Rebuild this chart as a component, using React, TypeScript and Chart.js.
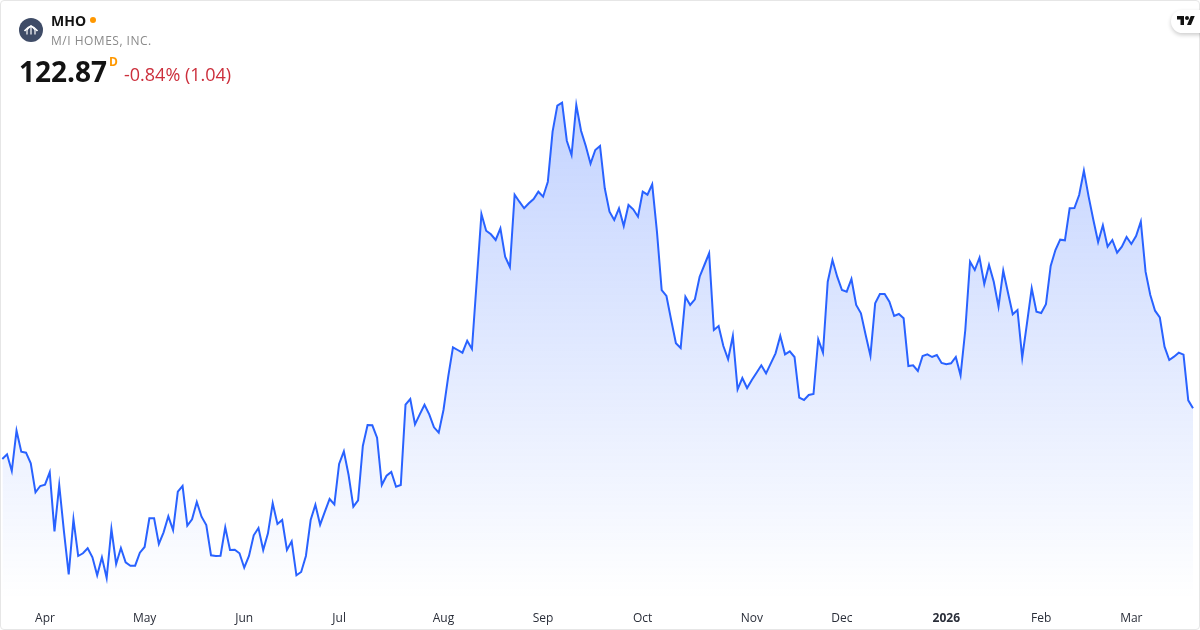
import React, { useEffect, useRef } from "react";
import { Chart, registerables } from "chart.js";

Chart.register(...registerables);

const prices: number[] = [
  116.28, 116.89, 114.72, 119.96, 117.23, 117.10, 115.72, 111.95, 112.77, 112.94,
  114.55, 106.88, 112.90, 106.83, 101.29, 108.44, 103.67, 104.02, 104.67, 103.50,
  101.16, 103.50, 100.81, 107.18, 102.63, 104.71, 102.85, 102.41, 102.41, 104.10,
  104.84, 108.57, 108.57, 105.23, 106.75, 108.83, 107.05, 112.03, 112.77, 107.61,
  108.44, 110.69, 108.78, 107.70, 103.76, 103.67, 103.71, 107.40, 104.45, 104.49,
  104.02, 102.15, 103.67, 106.36, 107.31, 104.45, 106.62, 110.52, 107.83, 108.35,
  104.45, 105.58, 101.16, 101.59, 103.67, 108.35, 110.34, 107.74, 109.43, 111.08,
  110.39, 115.63, 117.28, 114.20, 110.08, 110.91, 117.97, 120.70, 120.66, 119.05,
  112.90, 114.11, 114.59, 112.68, 112.90, 123.34, 124.08, 120.79, 122.09, 123.34,
  122.09, 120.40, 119.70, 122.65, 126.98, 130.80, 130.45, 130.10, 131.66, 130.58,
  139.33, 148.13, 145.96, 145.49, 144.75, 146.27, 142.58, 141.24, 150.64, 149.73,
  148.87, 149.52, 150.08, 151.03, 150.38, 152.33, 158.83, 162.21, 162.60, 157.66,
  155.80, 162.30, 158.96, 156.97, 154.67, 156.45, 156.97, 151.47, 148.43, 147.35,
  148.87, 146.57, 149.30, 148.74, 147.78, 151.03, 150.64, 151.99, 145.83, 138.25,
  137.47, 134.35, 131.32, 130.71, 137.38, 136.30, 137.04, 139.98, 141.50, 143.02,
  133.05, 133.57, 130.97, 129.24, 132.27, 125.34, 126.81, 125.51, 126.55, 127.50,
  128.46, 127.42, 128.72, 130.02, 132.27, 129.89, 130.28, 129.54, 124.25, 123.95,
  124.60, 124.73, 131.84, 130.10, 139.33, 142.15, 139.98, 138.25, 138.03, 139.68,
  136.30, 135.22, 132.40, 129.71, 136.52, 137.73, 137.73, 136.73, 134.87, 135.13,
  134.57, 128.37, 128.46, 127.72, 129.67, 129.89, 129.54, 129.80, 128.76, 128.59,
  128.72, 129.54, 127.16, 133.05, 141.93, 140.85, 142.45, 139.03, 141.50, 139.33,
  136.08, 140.76, 137.90, 135.09, 135.65, 129.45, 133.92, 138.47, 135.43, 135.26,
  136.39, 141.37, 143.45, 144.79, 144.71, 148.87, 148.91, 150.60, 153.76, 150.38,
  147.35, 144.49, 146.66, 143.88, 144.75, 143.10, 143.88, 145.14, 144.23, 145.27,
  147.13, 140.63, 137.60, 135.56, 134.70, 130.88, 129.15, 129.58, 130.10, 129.84,
  123.91, 122.87,
];

const monthLabels = ["Apr", "May", "Jun", "Jul", "Aug", "Sep", "Oct", "Nov", "Dec", "2026", "Feb", "Mar"];
const monthStartIndex = [9, 30, 51, 71, 93, 114, 135, 158, 177, 199, 219, 238];

const axisMin = 97.95;
const axisMax = 175.95;

const FONT = '"Open Sans", "Noto Sans", sans-serif';

export default function App() {
  const ref = useRef<HTMLCanvasElement>(null);

  useEffect(() => {
    document.body.style.margin = "0";
    document.body.style.background = "#fff";
    const canvas = ref.current!;
    const labels = prices.map((_, i) => {
      const k = monthStartIndex.indexOf(i);
      return k >= 0 ? monthLabels[k] : "";
    });
    const chart = new Chart(canvas, {
      type: "line",
      data: {
        labels,
        datasets: [
          {
            data: prices,
            borderColor: "#2962ff",
            borderWidth: 2,
            pointRadius: 0,
            tension: 0,
            fill: "start",
            backgroundColor: (ctx: any) => {
              const { chart } = ctx;
              const area = chart.chartArea;
              if (!area) return "rgba(41,98,255,0.1)";
              const top = chart.scales.y.getPixelForValue(Math.max(...prices));
              const g = chart.ctx.createLinearGradient(0, top, 0, area.bottom);
              g.addColorStop(0, "rgba(41,98,255,0.28)");
              g.addColorStop(1, "rgba(41,98,255,0)");
              return g;
            },
          },
        ],
      },
      options: {
        animation: false,
        responsive: false,
        maintainAspectRatio: false,
        layout: { padding: { left: 2.3, right: 7, top: 0, bottom: 0 } },
        plugins: { legend: { display: false }, tooltip: { enabled: false } },
        scales: {
          y: { display: false, min: axisMin, max: axisMax },
          x: {
            afterFit: (s: any) => {
              s.height = 30;
              s.paddingLeft = 0;
              s.paddingRight = 0;
            },
            border: { display: false },
            grid: { display: false, drawTicks: false },
            ticks: {
              autoSkip: false,
              maxRotation: 0,
              minRotation: 0,
              padding: 11,
              color: "#2a2e39",
              font: (ctx: any) => ({
                family: FONT,
                size: 12,
                weight: ctx.tick && ctx.tick.label === "2026" ? "bold" : "normal",
              }),
            },
          },
        },
      },
    } as any);
    return () => chart.destroy();
  }, []);

  return (
    <div
      style={{
        position: "fixed",
        left: 0,
        top: 0,
        width: 1200,
        height: 630,
        background: "#fff",
        overflow: "hidden",
        fontFamily: FONT,
      }}
    >
      <canvas ref={ref} width={1200} height={630} style={{ position: "absolute", left: 0, top: 0, width: 1200, height: 630 }} />
      <div
        style={{
          position: "absolute",
          left: 0,
          top: 0,
          width: 1198,
          height: 628,
          border: "1px solid #e6e6e6",
          borderRadius: 4,
          pointerEvents: "none",
        }}
      />
      <svg width="24" height="24" viewBox="0 0 24 24" style={{ position: "absolute", left: 19, top: 18 }}>
        <circle cx="12" cy="12" r="12" fill="#3f4c67" />
        <path d="M5.5 13 Q8 9.5 12 8 Q16 9.5 18.5 13" fill="none" stroke="#fff" strokeWidth="1.5" />
        <path d="M8 16.5 V12.5 Q8 11 12 8 Q16 11 16 12.5 V16.5 M12 16.5 V8" fill="none" stroke="#fff" strokeWidth="1.2" />
      </svg>
      <div style={{ position: "absolute", left: 51, top: 11, fontSize: 14, lineHeight: "20px", fontWeight: 700, color: "#131313" }}>MHO</div>
      <div style={{ position: "absolute", left: 90, top: 17, width: 6, height: 6, borderRadius: 3, background: "#ff9800" }} />
      <div style={{ position: "absolute", left: 51, top: 32, fontSize: 12, lineHeight: "18px", color: "#8a8a8a", letterSpacing: 0.5 }}>M/I HOMES, INC.</div>
      <div style={{ position: "absolute", left: 19, top: 52, fontSize: 28, lineHeight: "38px", fontWeight: 700, color: "#131313" }}>122.87</div>
      <div style={{ position: "absolute", left: 109, top: 54, fontSize: 12, lineHeight: "16px", fontWeight: 700, color: "#ff9800" }}>D</div>
      <div style={{ position: "absolute", left: 124, top: 62, fontSize: 18, lineHeight: "24px", color: "#cc2f3c" }}>-0.84% (1.04)</div>
      <div
        style={{
          position: "absolute",
          left: 1171,
          top: 10,
          width: 40,
          height: 23,
          background: "#fff",
          borderRadius: 12,
          boxShadow: "0 2px 4px rgba(0,0,0,0.2)",
        }}
      />
      <svg width="18" height="14" viewBox="0 0 36 28" style={{ position: "absolute", left: 1177, top: 14 }}>
        <path d="M14 22H7V11H0V4h14v18zM28 22h-8l7.5-18h8L28 22z" fill="#131313" />
        <circle cx="20" cy="8" r="4" fill="#131313" />
      </svg>
    </div>
  );
}
